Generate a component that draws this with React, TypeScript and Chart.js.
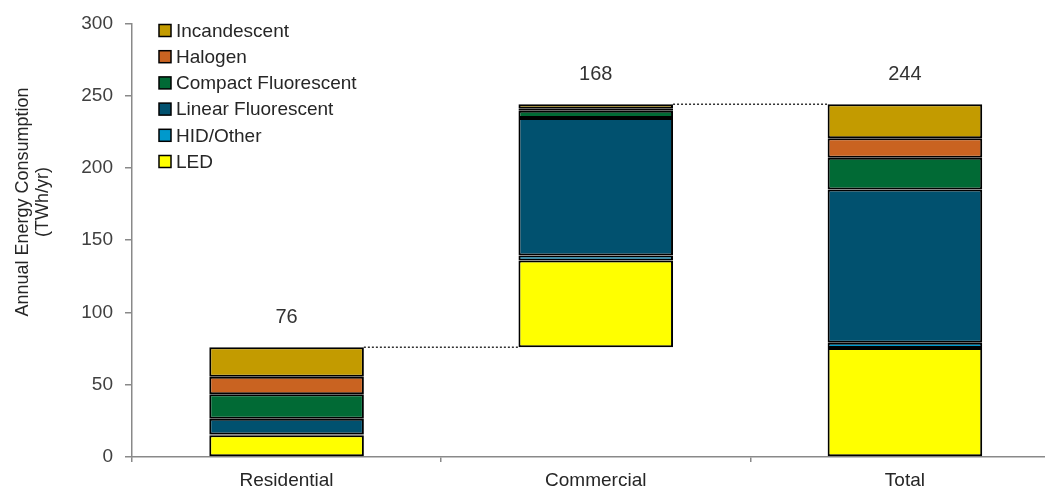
import React, { useEffect, useRef } from "react";
import { Chart, registerables } from "chart.js";

Chart.register(...registerables);

const categories = ["Residential", "Commercial", "Total"];
const floatBase = [0, 76, 0];
const led = [15, 60, 75.5];
const hidOther = [0.5, 3.5, 3.5];
const linearFluorescent = [11, 95, 106];
const compactFluorescent = [17, 5, 22];
const halogen = [12, 1.5, 13.5];
const incandescent = [20.5, 3, 23.5];
const barLabels = ["76", "168", "244"];
const barTops = [76, 244, 244];
const yTicks = [0, 50, 100, 150, 200, 250, 300];
const yTitleLines = ["Annual Energy Consumption", "(TWh/yr)"];

const seriesNames = ["LED", "HID/Other", "Linear Fluorescent", "Compact Fluorescent", "Halogen", "Incandescent"];
const seriesColors = ["#FFFF00", "#0099CC", "#01516F", "#016A35", "#C96321", "#C39B00"];
const seriesValues = [led, hidOther, linearFluorescent, compactFluorescent, halogen, incandescent];

const FONT = "'Liberation Sans', Arial, sans-serif";

const overlayPlugin = {
  id: "overlay",
  afterDatasetsDraw(chart: any) {
    const ctx = chart.ctx;
    const y = chart.scales.y;
    const lastMeta = chart.getDatasetMeta(chart.data.datasets.length - 1);
    const bars = lastMeta.data;
    ctx.save();
    // connectors
    ctx.strokeStyle = "#333";
    ctx.lineWidth = 1.5;
    ctx.setLineDash([2, 2]);
    for (let i = 0; i < bars.length - 1; i++) {
      const a = bars[i];
      const b = bars[i + 1];
      const yy = y.getPixelForValue(barTops[i]);
      ctx.beginPath();
      ctx.moveTo(a.x + a.width / 2, yy);
      ctx.lineTo(b.x - b.width / 2, yy);
      ctx.stroke();
    }
    ctx.setLineDash([]);
    // value labels
    ctx.fillStyle = "#333";
    ctx.font = "20px " + FONT;
    ctx.textAlign = "center";
    ctx.textBaseline = "middle";
    bars.forEach((bar: any, i: number) => {
      ctx.fillText(barLabels[i], bar.x, y.getPixelForValue(barTops[i]) - 30);
    });
    // legend
    ctx.font = "19px " + FONT;
    ctx.textAlign = "left";
    for (let k = seriesNames.length - 1, row = 0; k >= 0; k--, row++) {
      const cy = 30.5 + row * 26.2;
      ctx.fillStyle = seriesColors[k];
      ctx.fillRect(159, cy - 6, 12, 12);
      ctx.strokeStyle = "#000";
      ctx.lineWidth = 1.5;
      ctx.strokeRect(159, cy - 6, 12, 12);
      ctx.fillStyle = "#262626";
      ctx.fillText(seriesNames[k], 176, cy + 1);
    }
    // y axis title
    ctx.save();
    ctx.translate(0, 202);
    ctx.rotate(-Math.PI / 2);
    ctx.font = "18px " + FONT;
    ctx.fillStyle = "#262626";
    ctx.textAlign = "center";
    ctx.textBaseline = "middle";
    ctx.fillText(yTitleLines[0], 0, 23);
    ctx.fillText(yTitleLines[1], 0, 43);
    ctx.restore();
    ctx.restore();
  },
};

export default function App() {
  const ref = useRef<HTMLCanvasElement>(null);
  useEffect(() => {
    if (!ref.current) return;
    const datasets: any[] = [
      {
        label: "base",
        data: floatBase,
        backgroundColor: "rgba(0,0,0,0)",
        borderWidth: 0,
      },
      ...seriesNames.map((name, i) => ({
        label: name,
        data: seriesValues[i],
        backgroundColor: seriesColors[i],
        borderColor: "#000",
        borderWidth: 2,
        borderSkipped: false,
      })),
    ];
    const chart = new Chart(ref.current, {
      type: "bar",
      data: { labels: categories, datasets },
      plugins: [overlayPlugin],
      options: {
        animation: false,
        responsive: true,
        maintainAspectRatio: false,
        layout: { padding: { top: 23, right: 2.5, left: 0, bottom: 0 } },
        datasets: { bar: { barPercentage: 0.5, categoryPercentage: 1 } },
        plugins: { legend: { display: false }, tooltip: { enabled: false } },
        scales: {
          x: {
            stacked: true,
            grid: { drawOnChartArea: false, color: "#898989", tickLength: 5, lineWidth: 1.5 },
            border: { color: "#898989", width: 1.5 },
            ticks: { color: "#262626", font: { size: 19, family: FONT }, padding: 7 },
            afterFit: (s: any) => { s.height = 32; },
          },
          y: {
            stacked: true,
            min: 0,
            max: 300,
            afterBuildTicks: (s: any) => { s.ticks = yTicks.map((v) => ({ value: v })); },
            grid: { drawOnChartArea: false, color: "#898989", tickLength: 7, lineWidth: 1.5 },
            border: { color: "#898989", width: 1.5 },
            ticks: { color: "#404040", font: { size: 19, family: FONT }, padding: 12 },
            afterFit: (s: any) => { s.width = 132; },
          },
        },
      },
    } as any);
    return () => chart.destroy();
  }, []);
  return (
    <div style={{ position: "fixed", left: 0, top: 0, width: 1045, height: 489, overflow: "hidden", background: "#fff" }}>
      <div style={{ position: "relative", width: 1062, height: 489 }}>
        <canvas ref={ref} />
      </div>
    </div>
  );
}
